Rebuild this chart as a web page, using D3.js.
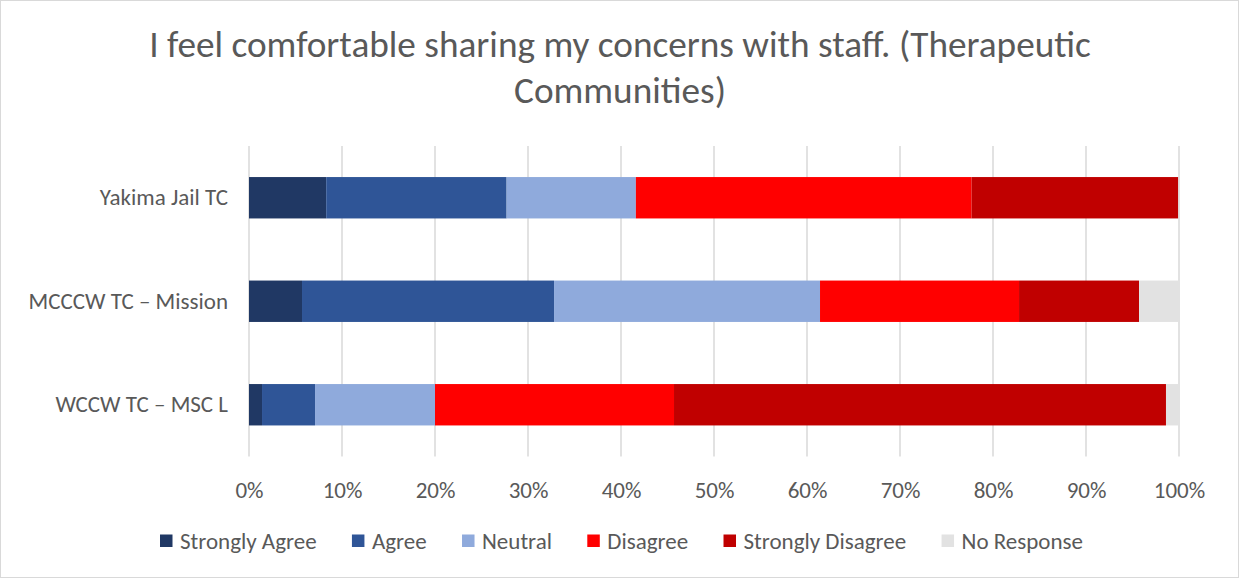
<!DOCTYPE html>
<html><head><meta charset="utf-8">
<script src="https://cdn.jsdelivr.net/npm/d3@7"></script>
<style>body{margin:0;background:#fff}svg{display:block}text{font-family:Carlito,Calibri,Lato,"Open Sans",sans-serif}</style>
</head><body><svg id="c" width="1239" height="578"></svg>
<script>
const categories = ["Yakima Jail TC", "MCCCW TC – Mission", "WCCW TC – MSC L"];
const seriesNames = ["Strongly Agree", "Agree", "Neutral", "Disagree", "Strongly Disagree", "No Response"];
const colors = ["#203864", "#2f5597", "#8faadc", "#ff0000", "#c00000", "#e2e2e2"];
// percentages per category (row) per series
const stronglyAgree    = [8.3, 5.7, 1.4];
const agree            = [19.4, 27.1, 5.7];
const neutral          = [13.9, 28.6, 12.9];
const disagree         = [36.1, 21.4, 25.7];
const stronglyDisagree = [22.2, 12.9, 52.9];
const noResponse       = [0.0, 4.3, 1.4];
const tickValues = [0,10,20,30,40,50,60,70,80,90,100];
const title = ["I feel comfortable sharing my concerns with staff. (Therapeutic", "Communities)"];

const seriesVals = [stronglyAgree, agree, neutral, disagree, stronglyDisagree, noResponse];
const rows = categories.map((c,i)=>{const o={cat:c}; seriesNames.forEach((s,j)=>o[s]=seriesVals[j][i]); return o;});
const stack = d3.stack().keys(seriesNames)(rows);

const svg = d3.select("#c");
const W=1239,H=578;
const FF = "Carlito,Calibri,Lato,'Open Sans',sans-serif";
svg.append("rect").attr("x",0.5).attr("y",0.5).attr("width",W-1).attr("height",H-1).attr("fill","#fff").attr("stroke","#d9d9d9");

const x = d3.scaleLinear().domain([0,100]).range([249,1179]);
const y = d3.scaleBand().domain(categories).range([146,456.5]).paddingInner(0.6).paddingOuter(0.3);

// title
const tg = svg.append("g");
title.forEach((t,i)=>{
  tg.append("text").attr("x",620).attr("y",57+i*46).attr("text-anchor","middle")
    .attr("fill","#595959").style("font-size","31px").text(t);
});
const t0 = tg.select("text").node();
const fs = 31*942/t0.getComputedTextLength();
tg.selectAll("text").style("font-size",fs+"px");

// gridlines
svg.append("g").selectAll("line").data(tickValues).join("line")
  .attr("x1",d=>x(d)).attr("x2",d=>x(d)).attr("y1",146).attr("y2",456.5)
  .attr("stroke","#d9d9d9").attr("stroke-width",1.5);

// bars
svg.append("g").selectAll("g").data(stack).join("g").attr("fill",(d,i)=>colors[i])
  .selectAll("rect").data(d=>d).join("rect")
  .attr("x",d=>x(d[0])).attr("width",d=>Math.max(0,x(d[1])-x(d[0])))
  .attr("y",d=>y(d.data.cat)).attr("height",y.bandwidth());

const LFS = "23px";
// x axis labels
const xa = svg.append("g").attr("transform","translate(0,456.5)")
  .call(d3.axisBottom(x).tickValues(tickValues).tickFormat(d=>d+"%").tickSize(0).tickPadding(25));
xa.select(".domain").remove();
xa.selectAll("text").attr("fill","#595959").style("font-size",LFS).style("font-family",FF);

// y axis labels
const ya = svg.append("g").attr("transform","translate(249,0)")
  .call(d3.axisLeft(y).tickSize(0).tickPadding(21));
ya.select(".domain").remove();
ya.selectAll("text").attr("fill","#595959").style("font-size",LFS).style("font-family",FF);

// legend
const lg = svg.append("g");
const items = seriesNames.map((s,i)=>{
  const g = lg.append("g");
  g.append("rect").attr("width",12.5).attr("height",12.5).attr("y",534.5).attr("fill",colors[i]);
  g.append("text").attr("x",20).attr("y",549).attr("fill","#595959").style("font-size",LFS).text(s);
  return g;
});
let widths = items.map(g=>20+g.select("text").node().getComputedTextLength());
const gap = (923 - d3.sum(widths))/(widths.length-1);
let cx = 160;
items.forEach((g,i)=>{g.attr("transform",`translate(${cx},0)`); cx+=widths[i]+gap;});
</script></body></html>
